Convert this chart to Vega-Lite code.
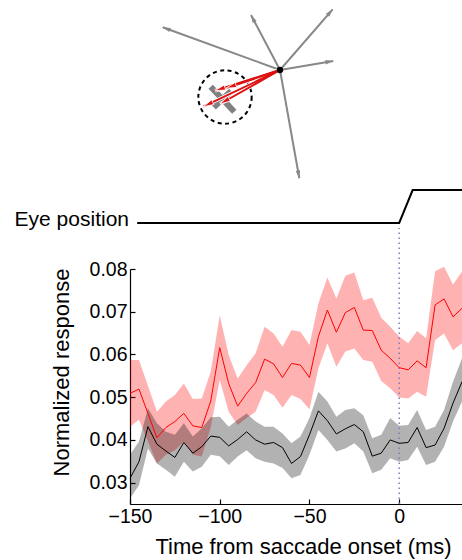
{
  "$schema": "https://vega.github.io/schema/vega-lite/v6.json",
  "width": 462,
  "height": 560,
  "autosize": "none",
  "padding": 0,
  "config": {
    "view": {"stroke": null},
    "font": "Liberation Sans",
    "axis": {
      "grid": false,
      "domainColor": "black",
      "tickColor": "black",
      "labelColor": "black",
      "titleColor": "black",
      "labelFont": "Liberation Sans",
      "titleFont": "Liberation Sans",
      "labelFontSize": 19.5,
      "titleFontSize": 22,
      "titleFontWeight": "normal",
      "labelFlush": false,
      "labelOverlap": false,
      "domainWidth": 1.2,
      "tickWidth": 1.2
    }
  },
  "datasets": {
    "pref": [
      {"t": -150, "m": 0.0509, "lo": 0.0431, "hi": 0.0587},
      {"t": -145, "m": 0.0519, "lo": 0.0447, "hi": 0.0587},
      {"t": -140, "m": 0.0462, "lo": 0.0396, "hi": 0.0527},
      {"t": -135, "m": 0.0405, "lo": 0.0345, "hi": 0.0466},
      {"t": -130, "m": 0.0429, "lo": 0.0365, "hi": 0.0490},
      {"t": -125, "m": 0.0443, "lo": 0.0376, "hi": 0.0505},
      {"t": -120, "m": 0.0462, "lo": 0.0396, "hi": 0.0532},
      {"t": -115, "m": 0.0433, "lo": 0.0365, "hi": 0.0496},
      {"t": -110, "m": 0.0429, "lo": 0.0361, "hi": 0.0497},
      {"t": -105, "m": 0.0491, "lo": 0.0430, "hi": 0.0560},
      {"t": -100, "m": 0.0616, "lo": 0.0540, "hi": 0.0692},
      {"t": -95, "m": 0.0532, "lo": 0.0466, "hi": 0.0599},
      {"t": -90, "m": 0.0479, "lo": 0.0435, "hi": 0.0544},
      {"t": -85, "m": 0.0509, "lo": 0.0451, "hi": 0.0575},
      {"t": -80, "m": 0.0534, "lo": 0.0466, "hi": 0.0603},
      {"t": -75, "m": 0.0589, "lo": 0.0517, "hi": 0.0665},
      {"t": -70, "m": 0.0578, "lo": 0.0505, "hi": 0.0649},
      {"t": -65, "m": 0.0546, "lo": 0.0475, "hi": 0.0618},
      {"t": -60, "m": 0.0579, "lo": 0.0505, "hi": 0.0657},
      {"t": -55, "m": 0.0575, "lo": 0.0496, "hi": 0.0653},
      {"t": -50, "m": 0.0546, "lo": 0.0472, "hi": 0.0622},
      {"t": -45, "m": 0.0642, "lo": 0.0568, "hi": 0.0720},
      {"t": -40, "m": 0.0704, "lo": 0.0626, "hi": 0.0780},
      {"t": -35, "m": 0.0652, "lo": 0.0571, "hi": 0.0731},
      {"t": -30, "m": 0.0698, "lo": 0.0607, "hi": 0.0784},
      {"t": -25, "m": 0.0710, "lo": 0.0614, "hi": 0.0792},
      {"t": -20, "m": 0.0657, "lo": 0.0587, "hi": 0.0727},
      {"t": -15, "m": 0.0656, "lo": 0.0583, "hi": 0.0733},
      {"t": -10, "m": 0.0610, "lo": 0.0538, "hi": 0.0686},
      {"t": -5, "m": 0.0591, "lo": 0.0521, "hi": 0.0665},
      {"t": 0, "m": 0.0569, "lo": 0.0499, "hi": 0.0642},
      {"t": 5, "m": 0.0564, "lo": 0.0497, "hi": 0.0626},
      {"t": 10, "m": 0.0585, "lo": 0.0513, "hi": 0.0655},
      {"t": 15, "m": 0.0569, "lo": 0.0501, "hi": 0.0638},
      {"t": 20, "m": 0.0716, "lo": 0.0634, "hi": 0.0795},
      {"t": 25, "m": 0.0730, "lo": 0.0649, "hi": 0.0805},
      {"t": 30, "m": 0.0688, "lo": 0.0610, "hi": 0.0764},
      {"t": 35, "m": 0.0708, "lo": 0.0626, "hi": 0.0794}
    ],
    "null": [
      {"t": -150, "m": 0.0310, "lo": 0.0263, "hi": 0.0365},
      {"t": -145, "m": 0.0349, "lo": 0.0294, "hi": 0.0396},
      {"t": -140, "m": 0.0431, "lo": 0.0380, "hi": 0.0474},
      {"t": -135, "m": 0.0390, "lo": 0.0345, "hi": 0.0439},
      {"t": -130, "m": 0.0374, "lo": 0.0330, "hi": 0.0419},
      {"t": -125, "m": 0.0359, "lo": 0.0314, "hi": 0.0412},
      {"t": -120, "m": 0.0394, "lo": 0.0349, "hi": 0.0439},
      {"t": -115, "m": 0.0369, "lo": 0.0326, "hi": 0.0408},
      {"t": -110, "m": 0.0384, "lo": 0.0337, "hi": 0.0427},
      {"t": -105, "m": 0.0409, "lo": 0.0365, "hi": 0.0453},
      {"t": -100, "m": 0.0406, "lo": 0.0362, "hi": 0.0454},
      {"t": -95, "m": 0.0386, "lo": 0.0341, "hi": 0.0431},
      {"t": -90, "m": 0.0401, "lo": 0.0361, "hi": 0.0447},
      {"t": -85, "m": 0.0419, "lo": 0.0376, "hi": 0.0462},
      {"t": -80, "m": 0.0400, "lo": 0.0357, "hi": 0.0443},
      {"t": -75, "m": 0.0390, "lo": 0.0349, "hi": 0.0431},
      {"t": -70, "m": 0.0394, "lo": 0.0345, "hi": 0.0431},
      {"t": -65, "m": 0.0382, "lo": 0.0334, "hi": 0.0415},
      {"t": -60, "m": 0.0345, "lo": 0.0310, "hi": 0.0392},
      {"t": -55, "m": 0.0361, "lo": 0.0318, "hi": 0.0408},
      {"t": -50, "m": 0.0412, "lo": 0.0365, "hi": 0.0451},
      {"t": -45, "m": 0.0468, "lo": 0.0423, "hi": 0.0513},
      {"t": -40, "m": 0.0445, "lo": 0.0400, "hi": 0.0490},
      {"t": -35, "m": 0.0414, "lo": 0.0373, "hi": 0.0454},
      {"t": -30, "m": 0.0426, "lo": 0.0380, "hi": 0.0470},
      {"t": -25, "m": 0.0436, "lo": 0.0392, "hi": 0.0474},
      {"t": -20, "m": 0.0419, "lo": 0.0373, "hi": 0.0458},
      {"t": -15, "m": 0.0362, "lo": 0.0322, "hi": 0.0404},
      {"t": -10, "m": 0.0369, "lo": 0.0330, "hi": 0.0412},
      {"t": -5, "m": 0.0400, "lo": 0.0357, "hi": 0.0451},
      {"t": 0, "m": 0.0392, "lo": 0.0349, "hi": 0.0433},
      {"t": 5, "m": 0.0394, "lo": 0.0353, "hi": 0.0435},
      {"t": 10, "m": 0.0429, "lo": 0.0384, "hi": 0.0470},
      {"t": 15, "m": 0.0382, "lo": 0.0341, "hi": 0.0423},
      {"t": 20, "m": 0.0388, "lo": 0.0349, "hi": 0.0431},
      {"t": 25, "m": 0.0427, "lo": 0.0384, "hi": 0.0470},
      {"t": 30, "m": 0.0486, "lo": 0.0443, "hi": 0.0536},
      {"t": 35, "m": 0.0536, "lo": 0.0490, "hi": 0.0591}
    ],
    "eye": [
      {"t": -146, "pos": 0},
      {"t": 0, "pos": 0},
      {"t": 7.5, "pos": 1},
      {"t": 35, "pos": 1}
    ],
    "eyeLabel": [
      {"t": -150, "pos": 0, "label": "Eye position"}
    ],
    "onset": [
      {"t": 0, "lo": 0.025, "hi": 0.0896}
    ],
    "grayArrows": [
      {"sx": 0, "sy": 0, "ex": -11.73, "ey": 4.27},
      {"sx": 0, "sy": 0, "ex": -2.9, "ey": 5.5},
      {"sx": 0, "sy": 0, "ex": 5.27, "ey": 6.07},
      {"sx": 0, "sy": 0, "ex": 5.33, "ey": 0.9},
      {"sx": 0, "sy": 0, "ex": 1.93, "ey": -10.83}
    ],
    "redArrows": [
      {"sx": 0, "sy": 0, "ex": -7.67, "ey": -3.67},
      {"sx": 0, "sy": 0, "ex": -6.0, "ey": -3.4},
      {"sx": 0, "sy": 0, "ex": -6.5, "ey": -2.07},
      {"sx": 0, "sy": 0, "ex": -5.4, "ey": -1.83}
    ],
    "target": [
      {"sx": -6.93, "sy": -1.67, "ex": -4.57, "ey": -4.17},
      {"sx": -6.62, "sy": -3.74, "ex": -4.88, "ey": -2.10}
    ],
    "field": [
      {"cx": -5.5, "cy": -2.7}
    ],
    "fix": [
      {"cx": 0, "cy": 0}
    ]
  },
  "resolve": {"scale": {"x": "independent", "y": "independent"}},
  "layer": [
    {
      "layer": [
        {
          "data": {"name": "target"},
          "mark": {"type": "rule", "color": "#808080", "strokeWidth": 6},
          "encoding": {
            "x": {"field": "sx", "type": "quantitative", "scale": {"domain": [-28, 18.2], "range": [0, 462]}, "axis": null},
            "y": {"field": "sy", "type": "quantitative", "scale": {"domain": [-49, 7], "range": [560, 0]}, "axis": null},
            "x2": {"field": "ex"},
            "y2": {"field": "ey"}
          }
        },
        {
          "data": {"name": "field"},
          "mark": {"type": "point", "shape": "circle", "filled": false, "size": 2844, "stroke": "black", "strokeWidth": 2, "strokeDash": [4, 3.5], "opacity": 1},
          "encoding": {
            "x": {"field": "cx", "type": "quantitative", "scale": {"domain": [-28, 18.2], "range": [0, 462]}, "axis": null},
            "y": {"field": "cy", "type": "quantitative", "scale": {"domain": [-49, 7], "range": [560, 0]}, "axis": null}
          }
        },
        {
          "data": {"name": "grayArrows"},
          "mark": {"type": "rule", "color": "#888888", "strokeWidth": 2},
          "encoding": {
            "x": {"field": "sx", "type": "quantitative", "scale": {"domain": [-28, 18.2], "range": [0, 462]}, "axis": null},
            "y": {"field": "sy", "type": "quantitative", "scale": {"domain": [-49, 7], "range": [560, 0]}, "axis": null},
            "x2": {"field": "ex"},
            "y2": {"field": "ey"}
          }
        },
        {
          "data": {"name": "grayArrows"},
          "transform": [
            {"calculate": "atan2(datum.ex - datum.sx, datum.ey - datum.sy) * 180 / PI", "as": "heading"}
          ],
          "mark": {"type": "point", "shape": "M0,0L-0.6,2.1L0.6,2.1Z", "filled": true, "opacity": 1, "size": 56, "color": "#888888"},
          "encoding": {
            "x": {"field": "ex", "type": "quantitative", "scale": {"domain": [-28, 18.2], "range": [0, 462]}, "axis": null},
            "y": {"field": "ey", "type": "quantitative", "scale": {"domain": [-49, 7], "range": [560, 0]}, "axis": null},
            "angle": {"field": "heading", "type": "quantitative", "scale": null}
          }
        },
        {
          "data": {"name": "redArrows"},
          "mark": {"type": "rule", "color": "white", "strokeWidth": 3.6},
          "encoding": {
            "x": {"field": "sx", "type": "quantitative", "scale": {"domain": [-28, 18.2], "range": [0, 462]}, "axis": null},
            "y": {"field": "sy", "type": "quantitative", "scale": {"domain": [-49, 7], "range": [560, 0]}, "axis": null},
            "x2": {"field": "ex"},
            "y2": {"field": "ey"}
          }
        },
        {
          "data": {"name": "redArrows"},
          "mark": {"type": "rule", "color": "#dd1111", "strokeWidth": 2},
          "encoding": {
            "x": {"field": "sx", "type": "quantitative", "scale": {"domain": [-28, 18.2], "range": [0, 462]}, "axis": null},
            "y": {"field": "sy", "type": "quantitative", "scale": {"domain": [-49, 7], "range": [560, 0]}, "axis": null},
            "x2": {"field": "ex"},
            "y2": {"field": "ey"}
          }
        },
        {
          "data": {"name": "redArrows"},
          "transform": [
            {"calculate": "atan2(datum.ex - datum.sx, datum.ey - datum.sy) * 180 / PI", "as": "heading"}
          ],
          "mark": {"type": "point", "shape": "M0,0L-0.55,2.2L0.55,2.2Z", "filled": true, "opacity": 1, "size": 90, "color": "#dd1111", "stroke": "white", "strokeWidth": 0.8},
          "encoding": {
            "x": {"field": "ex", "type": "quantitative", "scale": {"domain": [-28, 18.2], "range": [0, 462]}, "axis": null},
            "y": {"field": "ey", "type": "quantitative", "scale": {"domain": [-49, 7], "range": [560, 0]}, "axis": null},
            "angle": {"field": "heading", "type": "quantitative", "scale": null}
          }
        },
        {
          "data": {"name": "fix"},
          "mark": {"type": "point", "shape": "circle", "filled": true, "color": "black", "size": 40, "opacity": 1},
          "encoding": {
            "x": {"field": "cx", "type": "quantitative", "scale": {"domain": [-28, 18.2], "range": [0, 462]}, "axis": null},
            "y": {"field": "cy", "type": "quantitative", "scale": {"domain": [-49, 7], "range": [560, 0]}, "axis": null}
          }
        }
      ]
    },
    {
      "layer": [
        {
          "data": {"name": "eye"},
          "mark": {"type": "line", "color": "black", "strokeWidth": 2},
          "encoding": {
            "x": {"field": "t", "type": "quantitative", "scale": {"domain": [-150, 35], "range": [130, 462]}, "axis": null},
            "y": {"field": "pos", "type": "quantitative", "scale": {"domain": [0, 1], "range": [223, 190]}, "axis": null}
          }
        },
        {
          "data": {"name": "eyeLabel"},
          "mark": {"type": "text", "align": "right", "baseline": "alphabetic", "dy": 3, "dx": -1, "fontSize": 21, "font": "Liberation Sans", "color": "black"},
          "encoding": {
            "x": {"field": "t", "type": "quantitative", "scale": {"domain": [-150, 35], "range": [130, 462]}, "axis": null},
            "y": {"field": "pos", "type": "quantitative", "scale": {"domain": [0, 1], "range": [223, 190]}, "axis": null},
            "text": {"field": "label"}
          }
        }
      ]
    },
    {
      "layer": [
        {
          "data": {"name": "pref"},
          "mark": {"type": "area", "color": "#ff0000", "opacity": 0.3},
          "encoding": {
            "x": {"field": "t", "type": "quantitative", "scale": {"domain": [-150, 35], "range": [130, 462]},
              "axis": {"values": [-150, -100, -50, 0], "offset": -56, "tickSize": -5, "labelPadding": 8,
                "title": "Time from saccade onset (ms)", "titleX": 303, "titleY": 49, "titleBaseline": "alphabetic", "titleAlign": "center", "titleAnchor": null}},
            "y": {"field": "lo", "type": "quantitative", "scale": {"domain": [0.025, 0.08], "range": [504, 269]},
              "axis": {"orient": "left", "values": [0.03, 0.04, 0.05, 0.06, 0.07, 0.08], "format": ".2f", "offset": -130, "tickSize": -5, "labelPadding": 8,
                "title": "Normalized response", "titleX": -62, "titleY": 372, "titleAngle": -90, "titleBaseline": "alphabetic", "titleAlign": "center", "titleAnchor": null}},
            "y2": {"field": "hi"}
          }
        },
        {
          "data": {"name": "null"},
          "mark": {"type": "area", "color": "#000000", "opacity": 0.3},
          "encoding": {
            "x": {"field": "t", "type": "quantitative", "scale": {"domain": [-150, 35], "range": [130, 462]}},
            "y": {"field": "lo", "type": "quantitative", "scale": {"domain": [0.025, 0.08], "range": [504, 269]}},
            "y2": {"field": "hi"}
          }
        },
        {
          "data": {"name": "onset"},
          "mark": {"type": "rule", "color": "#7b7bc4", "strokeWidth": 1.5, "strokeDash": [1.6, 3.4]},
          "encoding": {
            "x": {"field": "t", "type": "quantitative", "scale": {"domain": [-150, 35], "range": [130, 462]}},
            "y": {"field": "lo", "type": "quantitative", "scale": {"domain": [0.025, 0.08], "range": [504, 269]}},
            "y2": {"field": "hi"}
          }
        },
        {
          "data": {"name": "pref"},
          "mark": {"type": "line", "color": "#ff0000", "strokeWidth": 1},
          "encoding": {
            "x": {"field": "t", "type": "quantitative", "scale": {"domain": [-150, 35], "range": [130, 462]}},
            "y": {"field": "m", "type": "quantitative", "scale": {"domain": [0.025, 0.08], "range": [504, 269]}}
          }
        },
        {
          "data": {"name": "null"},
          "mark": {"type": "line", "color": "#000000", "strokeWidth": 1},
          "encoding": {
            "x": {"field": "t", "type": "quantitative", "scale": {"domain": [-150, 35], "range": [130, 462]}},
            "y": {"field": "m", "type": "quantitative", "scale": {"domain": [0.025, 0.08], "range": [504, 269]}}
          }
        }
      ]
    }
  ]
}
